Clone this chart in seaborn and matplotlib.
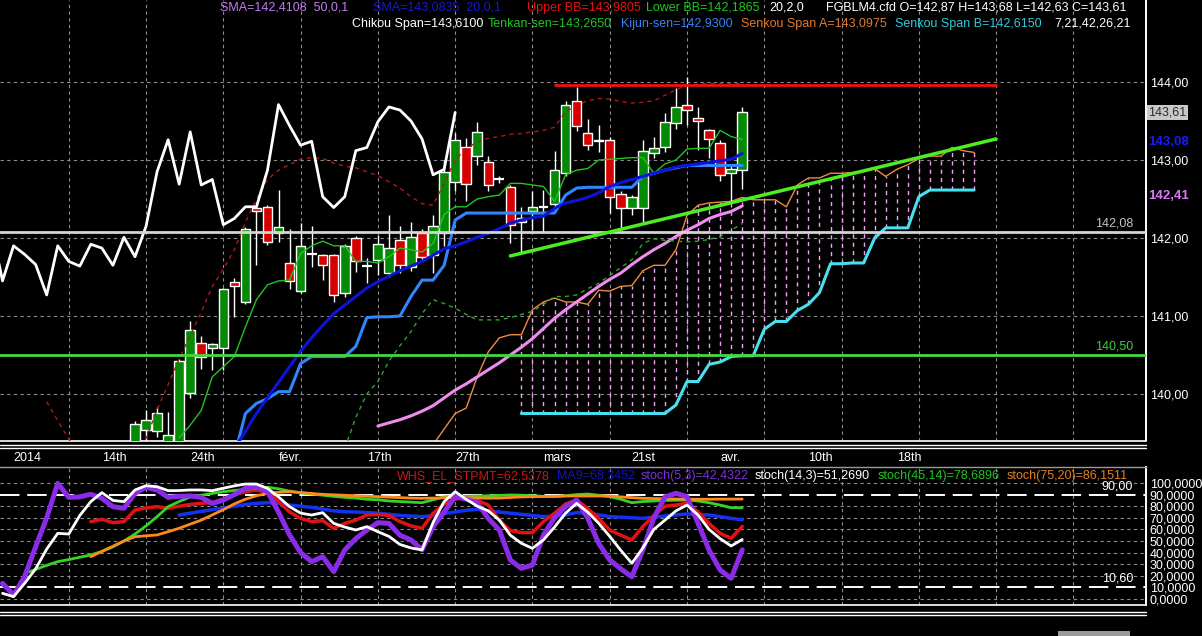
import numpy as np
import matplotlib
matplotlib.use("Agg")
import matplotlib.pyplot as plt
import matplotlib.transforms as mtransforms
from matplotlib.lines import Line2D
from matplotlib.patches import Rectangle
from matplotlib.ticker import FuncFormatter
import seaborn as sns

# ---------------- FGBLM4 daily candles (bar 0 = first candle on screen) ----------------
opens = [139.00, 139.54, 139.52, 139.20, 139.30, 140.01, 140.65, 140.59, 140.59, 141.44,
         141.18, 142.39, 142.40, 142.07, 141.68, 141.32, 141.79, 141.78, 141.78, 141.29,
         142.00, 141.64, 141.72, 141.55, 141.97, 141.63, 142.06, 141.78, 142.06, 142.72,
         143.17, 143.05, 142.98, 142.75, 142.66, 142.21, 142.35, 142.40, 142.44, 142.83,
         143.75, 143.35, 143.26, 143.26, 142.56, 142.38, 142.38, 143.09, 143.17, 143.47,
         143.70, 143.54, 143.39, 143.22, 142.83, 142.87]
highs = [139.66, 139.79, 139.83, 139.77, 140.45, 140.93, 140.74, 140.66, 141.36, 141.49,
         142.14, 142.42, 142.42, 142.62, 142.12, 142.19, 142.16, 141.80, 141.80, 141.92,
         142.02, 141.74, 142.04, 142.30, 142.15, 142.20, 142.12, 142.30, 143.00, 143.35,
         143.28, 143.49, 143.05, 142.80, 142.68, 142.40, 142.60, 142.62, 143.11, 143.75,
         143.94, 143.53, 143.45, 143.30, 142.60, 142.55, 143.25, 143.30, 143.60, 143.92,
         144.07, 143.68, 143.40, 143.25, 142.95, 143.68]
lows = [138.90, 139.35, 139.45, 139.10, 139.20, 139.95, 140.32, 140.31, 140.31, 140.99,
        141.15, 141.66, 141.91, 141.95, 141.34, 141.30, 141.63, 141.46, 141.18, 141.25,
        141.56, 141.42, 141.53, 141.50, 141.55, 141.58, 141.70, 141.55, 141.90, 142.60,
        142.47, 142.94, 142.60, 142.70, 141.93, 141.82, 142.10, 142.08, 142.40, 142.80,
        143.37, 143.13, 143.10, 142.32, 142.12, 142.30, 142.21, 143.03, 143.10, 143.40,
        143.45, 143.13, 143.02, 142.73, 142.47, 142.63]
closes = [139.62, 139.67, 139.75, 139.47, 140.42, 140.82, 140.48, 140.64, 141.34, 141.39,
          142.12, 142.35, 141.95, 142.14, 141.45, 141.90, 141.79, 141.66, 141.27, 141.90,
          141.70, 141.64, 141.92, 141.87, 141.65, 142.01, 141.76, 142.15, 142.85, 143.26,
          142.69, 143.36, 142.68, 142.75, 142.17, 142.25, 142.40, 142.40, 142.87, 143.71,
          143.44, 143.19, 143.24, 142.53, 142.39, 142.53, 143.12, 143.16, 143.49, 143.68,
          143.64, 143.50, 143.27, 142.81, 142.88, 143.61]

# ---------------- price indicators (each starts at the given bar) ----------------
sma50_start = 22
sma50 = [139.59, 139.63, 139.67, 139.72, 139.78, 139.85, 139.95, 140.05, 140.13, 140.22,
         140.31, 140.40, 140.50, 140.60, 140.71, 140.84, 140.97, 141.08, 141.18, 141.28,
         141.38, 141.47, 141.55, 141.66, 141.76, 141.85, 141.93, 142.02, 142.10, 142.17,
         142.25, 142.30, 142.34, 142.4108]
sma20_start = 9
sma20 = [139.30, 139.52, 139.75, 139.95, 140.15, 140.35, 140.55, 140.72, 140.88, 141.03,
         141.14, 141.25, 141.36, 141.44, 141.51, 141.58, 141.64, 141.70, 141.78, 141.86,
         141.90, 141.95, 142.01, 142.06, 142.12, 142.19, 142.23, 142.26, 142.28, 142.38,
         142.45, 142.48, 142.52, 142.58, 142.66, 142.71, 142.75, 142.79, 142.83, 142.87,
         142.91, 142.93, 142.95, 142.97, 142.99, 143.01, 143.0835]
upper_bb_start = -8
upper_bb = [139.90, 139.66, 139.42, 139.20, 139.05, 139.00, 139.00, 139.05, 139.20,
            139.43, 139.80, 140.12, 140.45, 140.75, 141.05, 141.38, 141.60, 141.85, 142.20,
            142.50, 142.75, 142.87, 142.94, 143.01, 143.03, 143.02, 142.96, 142.92, 142.90,
            142.85, 142.80, 142.72, 142.64, 142.53, 142.44, 142.42, 142.70, 143.00, 143.15,
            143.23, 143.28, 143.30, 143.33, 143.34, 143.36, 143.38, 143.42, 143.62, 143.70,
            143.76, 143.79, 143.78, 143.75, 143.73, 143.74, 143.76, 143.83, 143.90, 143.96,
            143.97, 143.98, 143.98, 143.98, 143.9805]
lower_bb_start = 19
lower_bb = [139.30, 139.70, 140.00, 140.16, 140.42, 140.62, 140.80, 141.03, 141.21, 141.16,
            141.10, 141.02, 140.95, 140.95, 140.95, 140.98, 141.02, 141.06, 141.15, 141.25,
            141.25, 141.27, 141.35, 141.42, 141.52, 141.62, 141.72, 141.93, 141.99, 141.97,
            141.96, 141.95, 141.96, 141.98, 142.02, 142.10, 142.1865]
tenkan_start = 4
tenkan = [139.44, 139.60, 139.79, 140.22, 140.35, 140.48, 140.86, 141.21, 141.40, 141.45,
          141.46, 141.80, 141.90, 141.96, 141.90, 141.90, 141.70, 141.70, 141.68, 141.76,
          141.87, 141.85, 141.82, 141.93, 142.30, 142.40, 142.40, 142.50, 142.53, 142.55,
          142.70, 142.70, 142.68, 142.66, 142.47, 142.81, 142.87, 142.89, 143.00, 143.01,
          143.02, 143.03, 143.03, 142.83, 142.95, 143.00, 143.14, 143.15, 143.15, 143.38,
          143.30, 143.265]
kijun_start = 9
kijun = [139.20, 139.75, 139.88, 139.94, 140.03, 140.03, 140.39, 140.48, 140.48, 140.48,
         140.48, 140.61, 140.98, 140.99, 140.99, 141.00, 141.25, 141.46, 141.46, 141.65,
         142.23, 142.32, 142.32, 142.32, 142.32, 142.32, 142.32, 142.32, 142.32, 142.32,
         142.55, 142.64, 142.65, 142.65, 142.65, 142.65, 142.65, 142.79, 142.83, 142.87,
         142.90, 142.93, 142.93, 142.93, 142.93, 142.93, 142.93]
senkou_a_start = 27
senkou_a = [139.35, 139.55, 139.75, 139.82, 140.22, 140.54, 140.72, 140.76, 140.76, 141.08,
            141.18, 141.23, 141.18, 141.18, 141.15, 141.33, 141.32, 141.38, 141.39, 141.58,
            141.65, 141.65, 141.85, 142.29, 142.42, 142.45, 142.46, 142.47, 142.52, 142.49,
            142.49, 142.49, 142.40, 142.68, 142.77, 142.77, 142.83, 142.83, 142.84, 142.85,
            142.89, 142.79, 142.88, 142.94, 143.02, 143.05, 143.05, 143.16, 143.12, 143.0975]
senkou_b_start = 35
senkou_b = [139.75, 139.75, 139.75, 139.75, 139.75, 139.75, 139.75, 139.75, 139.75, 139.75,
            139.75, 139.75, 139.75, 139.75, 139.86, 140.16, 140.16, 140.38, 140.41, 140.48,
            140.49, 140.49, 140.83, 140.93, 140.93, 141.07, 141.15, 141.30, 141.67, 141.67,
            141.68, 141.68, 142.00, 142.13, 142.13, 142.13, 142.53, 142.615, 142.615, 142.615,
            142.615, 142.615]
chikou_shift = 26

# drawn levels
level_grey = 142.08
level_green = 140.50
resistance_bars = [38, 78]
resistance_values = [143.96, 143.96]
trend_bars = [34, 78]
trend_values = [141.77, 143.27]

# ---------------- oscillator panel ----------------
stoch5_start = -12
stoch5 = [13.5, 3.4, 19.3, 45, 70, 99.7, 87.6, 88, 90.3, 86.8, 79.6, 78.2,
          91.1, 96.3, 94, 87.6, 88.5, 88.8, 87.6, 82.4, 85.3, 90,
          95.4, 96.8, 92.5, 75, 55.2, 40, 32.2, 36.5, 23.6, 42.3,
          52, 59.5, 65.8, 65.2, 55, 50.9, 42.3, 62.4, 75, 88.2,
          86, 83, 69.5, 59.5, 33.6, 26.4, 29.3, 55.2, 70, 79.6,
          85.3, 70, 48, 33.6, 26, 19.2, 42.2, 70, 88, 91.1,
          88.2, 65.3, 42.2, 25, 17.8, 42.4322]
stoch14_start = -12
stoch14 = [4.9, 2, 13.5, 26, 43, 56.6, 56, 72, 84, 91.7, 85, 83.9,
           94, 97.7, 96.8, 93.4, 93.5, 94, 94, 93.4, 95.5, 97.5,
           99.1, 99.1, 95.4, 88, 79.6, 74, 72.4, 74.4, 65.2, 62,
           59.5, 62.4, 58, 54, 47, 44, 42.3, 66, 84, 92.5,
           86, 80, 76, 68, 55, 48, 43.7, 51, 62, 74,
           82.4, 75, 65.3, 54, 42, 30.8, 44, 60, 68, 76,
           81, 72.4, 60, 52, 45.7, 51.2690]
stoch45_start = -10
stoch45 = [22.1, 25.5, 29, 32.2, 34, 36, 38, 41, 45, 50,
           56, 63, 71, 79.6, 84, 88, 89.5, 91, 92.5, 93.5,
           94.5, 95.5, 96.3, 95, 93, 91.5, 90.5, 89.5, 88.5, 87.6,
           87, 86, 85.5, 84.5, 84, 83.5, 83, 85.5, 88, 88.5,
           88.5, 88.8, 89, 89.3, 89.7, 89.5, 89, 88.5, 88.2, 89,
           90, 90.5, 89.5, 88.2, 86, 83, 84, 84.5, 85, 85.2,
           85.3, 84.5, 83, 81, 78.7, 78.6896]
stoch75_start = -4
stoch75 = [36.5, 41, 45.5, 50,
           53.7, 54.5, 55.2, 58, 61, 64.5, 68, 72.5, 77, 82,
           86, 89, 91.1, 92, 92.5, 91.8, 91, 90.2, 89.8, 89.4,
           89, 88.6, 88.2, 87.8, 87.4, 87, 86.8, 87, 87.3, 87.6,
           87.4, 87.1, 86.9, 87, 87.5, 88, 88.2, 88.4, 88.6, 88.8,
           88.8, 88.8, 88.8, 88.8, 88, 87.4, 86.8, 86.6, 86.4, 86.2,
           86, 86, 86, 86.1, 86.1, 86.1511]
stpmt_start = -4
stpmt = [66.7, 68.7, 65.8, 66.7,
         76.7, 78.5, 79.6, 78.2, 80, 81.5, 82.5, 83, 86, 90,
         92.5, 94, 92, 84, 75, 69.5, 66.7, 67.5, 60.9, 65.2,
         68, 72.4, 73, 72, 66.7, 63, 60.9, 73.9, 82, 85.9,
         88.2, 85, 81, 68, 59, 57.2, 57.2, 66.7, 74, 82,
         85.3, 78, 69.5, 59.5, 55, 50.9, 62.4, 72, 80, 81,
         82.5, 75, 65, 56.6, 52.3, 62.5378]
ma9_start = 4
ma9 = [72.4, 74, 75.5, 77, 78.5, 80, 81.5, 82.5, 83, 82.5,
       81, 80, 79, 77.5, 76, 75.3, 75, 74.5, 74, 73,
       72, 71.5, 71, 72, 73.5, 75, 76.5, 77.3, 76, 75,
       74, 73, 72, 71, 71.5, 72.4, 74.5, 74, 72.5, 71,
       70.5, 70, 69.5, 70.5, 71.5, 72.5, 73.3, 73, 72.4, 71,
       69.5, 68.3452]
osc_upper = 90.0
osc_lower = 10.6

date_labels = ["2014", "14th", "24th", "févr.", "17th", "27th", "mars",
               "21st", "avr.", "10th", "18th"]

# ---------------- style ----------------
sns.set_style("dark", {"axes.facecolor": "black", "figure.facecolor": "black"})
plt.rcParams["font.family"] = ["Liberation Sans", "DejaVu Sans"]

W, H, DPI = 1202, 636, 100
fig = plt.figure(figsize=(W / DPI, H / DPI), dpi=DPI, facecolor="black")


def fx(p):
    return p / W


def fy(p):
    return 1 - p / H


def fmt(v, d):
    return f"{v:.{d}f}".replace(".", ",")


PLOT_R = 1145.5
BAR_PX = 11.04
FIRST_BAR_PX = 135.0
ax = fig.add_axes([0, fy(440.5), fx(PLOT_R), fy(0) - fy(440.5)])
ax2 = fig.add_axes([0, fy(605), fx(PLOT_R), fy(467) - fy(605)])

x_lo = -FIRST_BAR_PX / BAR_PX
x_hi = (PLOT_R - FIRST_BAR_PX) / BAR_PX
for a in (ax, ax2):
    a.set_facecolor("black")
    a.set_xlim(x_lo, x_hi)
    a.set_xticks(np.arange(-6, 92, 7))
    a.tick_params(axis="x", length=0, labelbottom=False)
    a.grid(axis="x", color="#8c8c8c", ls=(0, (3, 3)), lw=0.8)
    a.set_axisbelow(True)
    for s in ("left", "top"):
        a.spines[s].set_visible(False)
    a.spines["right"].set_color("white")
    a.spines["right"].set_linewidth(1.4)
    a.spines["bottom"].set_color("white")
    a.spines["bottom"].set_linewidth(1.2)
    a.yaxis.tick_right()
    a.tick_params(axis="y", length=0, pad=3, labelcolor="white", labelsize=9)

ax2.spines["top"].set_visible(True)
ax2.spines["top"].set_color("#9a9a9a")
ax2.spines["top"].set_linewidth(1.0)

ax.set_ylim(144 - 358.5 / 78, 144 + 82 / 78)
ax.set_yticks([140, 141, 142, 143, 144])
ax.yaxis.set_major_formatter(FuncFormatter(lambda v, _: fmt(v, 2)))
ax.grid(axis="y", color="#8c8c8c", ls=(0, (3, 3)), lw=0.8)

ax2.set_ylim(-5.17, 113.79)
ax2.set_yticks(np.arange(0, 101, 10))
ax2.yaxis.set_major_formatter(FuncFormatter(lambda v, _: fmt(v, 4)))
for lev in (0, 20, 30, 40, 50, 60, 70, 80, 100):
    ax2.axhline(lev, color="#8c8c8c", ls=(0, (3, 3)), lw=0.8, zorder=0.5)


def line(a, start, values, **kw):
    xs = start + np.arange(len(values))
    sns.lineplot(x=xs, y=values, ax=a, estimator=None, sort=False, legend=False, **kw)


def segment(a, xs, ys, **kw):
    sns.lineplot(x=xs, y=ys, ax=a, estimator=None, sort=False, legend=False, **kw)


# ---------------- Ichimoku cloud hatching ----------------
a_arr = np.array(senkou_a)
b_arr = np.array(senkou_b)
cloud_bars = np.arange(senkou_b_start, senkou_b_start + len(senkou_b))
a_on_cloud = a_arr[cloud_bars - senkou_a_start]
ax.vlines(cloud_bars, np.minimum(a_on_cloud, b_arr), np.maximum(a_on_cloud, b_arr),
          colors="#f4a0f4", linestyles=(0, (3, 3)), lw=1, zorder=1)

# ---------------- candles ----------------
o = np.array(opens)
c = np.array(closes)
hi = np.array(highs)
lo = np.array(lows)
bars = np.arange(len(c))
up = c > o
dn = c < o
flat = c == o
ax.vlines(bars, lo, hi, color="white", lw=1, zorder=3)
ax.bar(bars[up], (c - o)[up], bottom=o[up], width=0.86, color="#058a05",
       edgecolor="white", linewidth=1, zorder=4)
ax.bar(bars[dn], (o - c)[dn], bottom=c[dn], width=0.86, color="#d60000",
       edgecolor="white", linewidth=1, zorder=4)
ax.hlines(c[flat], bars[flat] - 0.45, bars[flat] + 0.45, color="white", lw=1.6, zorder=4)

# ---------------- price overlays ----------------
line(ax, senkou_a_start, senkou_a, color="#f08a40", linewidth=1, zorder=2)
line(ax, senkou_b_start, senkou_b, color="#46e0f0", linewidth=2.2, zorder=2)
line(ax, sma50_start, sma50, color="#f08cf0", linewidth=2.2, zorder=5)
line(ax, lower_bb_start, lower_bb, color="#2aa82a", linewidth=1, linestyle=(0, (3, 3)), zorder=5)
line(ax, upper_bb_start, upper_bb, color="#b01818", linewidth=1, linestyle=(0, (3, 3)), zorder=5)
line(ax, tenkan_start, tenkan, color="#22c422", linewidth=1, zorder=6)
line(ax, kijun_start, kijun, color="#2f86ff", linewidth=2.2, zorder=6)
line(ax, sma20_start, sma20, color="#0c14d8", linewidth=2.2, zorder=6)
line(ax, -chikou_shift, closes, color="white", linewidth=2, zorder=7)

ax.axhline(level_grey, color="#d4d4d4", lw=2, zorder=8)
ax.axhline(level_green, color="#44d844", lw=2, zorder=8)
segment(ax, resistance_bars, resistance_values, color="#ee1111", linewidth=2, zorder=8)
segment(ax, trend_bars, trend_values, color="#4cee22", linewidth=2.5, zorder=8)

# ---------------- oscillators ----------------
ax2.axhline(osc_upper, color="white", ls=(0, (10, 4)), lw=1.4, zorder=1)
ax2.axhline(osc_lower, color="white", ls=(0, (10, 4)), lw=1.4, zorder=1)
line(ax2, ma9_start, ma9, color="#1232f0", linewidth=2.5, zorder=3)
line(ax2, stpmt_start, stpmt, color="#e01212", linewidth=2.5, zorder=3)
line(ax2, stoch45_start, stoch45, color="#36d424", linewidth=2, zorder=3)
line(ax2, stoch75_start, stoch75, color="#ff8a1c", linewidth=2, zorder=3)
line(ax2, stoch5_start, stoch5, color="#8a2be8", linewidth=3.6, zorder=4)
line(ax2, stoch14_start, stoch14, color="white", linewidth=2, zorder=5)

for a in (ax, ax2):
    a.set_xlabel("")
    a.set_ylabel("")
    a.set_xlim(x_lo, x_hi)

# ---------------- right-side value tags ----------------
ax.annotate(fmt(closes[-1], 2), xy=(1, closes[-1]), xycoords=("axes fraction", "data"),
            xytext=(2.2, 0), textcoords="offset points", va="center", ha="left",
            fontsize=9, color="#2a2a2a", annotation_clip=False,
            bbox=dict(boxstyle="square,pad=0.12", fc="#c8c8c8", ec="none"))
ax.annotate(fmt(sma20[-1], 2), xy=(1, sma20[-1]), xycoords=("axes fraction", "data"),
            xytext=(2.2, 8), textcoords="offset points", va="center", ha="left",
            fontsize=9.5, color="#1a1aff", fontweight="bold", annotation_clip=False)
ax.annotate(fmt(sma50[-1], 2), xy=(1, sma50[-1]), xycoords=("axes fraction", "data"),
            xytext=(2.2, 7.3), textcoords="offset points", va="center", ha="left",
            fontsize=9.5, color="#d878f0", fontweight="bold", annotation_clip=False)

lab_x = 1133 / PLOT_R
ax.annotate(fmt(level_grey, 2), xy=(lab_x, level_grey), xycoords=("axes fraction", "data"),
            xytext=(0, 6), textcoords="offset points", va="center", ha="right",
            fontsize=9, color="#c4c4c4")
ax.annotate(fmt(level_green, 2), xy=(lab_x, level_green), xycoords=("axes fraction", "data"),
            xytext=(0, 6), textcoords="offset points", va="center", ha="right",
            fontsize=9, color="#3ccc3c")
ax2.annotate(fmt(osc_upper, 2), xy=(lab_x, osc_upper), xycoords=("axes fraction", "data"),
             xytext=(0, 6), textcoords="offset points", va="center", ha="right",
             fontsize=9, color="white")
ax2.annotate(fmt(osc_lower, 2), xy=(lab_x, osc_lower), xycoords=("axes fraction", "data"),
             xytext=(0, 6), textcoords="offset points", va="center", ha="right",
             fontsize=9, color="white")

# ---------------- date labels ----------------
tdate = mtransforms.blended_transform_factory(ax.transData, fig.transFigure)
for k, lab in enumerate(date_labels):
    ax.text(-11 + 8 * k, fy(458), lab, transform=tdate, ha="left", va="center",
            fontsize=9, color="white", clip_on=False)


# ---------------- legends / headers ----------------
def header(items, ypx):
    for txt, col, xpx in items:
        fig.text(fx(xpx), fy(ypx), txt, color=col, fontsize=9, ha="left", va="center")


header([
    (f"SMA={fmt(sma50[-1], 4)}  50,0,1", "#c27cf0", 220),
    (f"SMA={fmt(sma20[-1], 4)}  20,0,1", "#1a1ac8", 373),
    (f"Upper BB={fmt(upper_bb[-1], 4)}", "#e01414", 527),
    (f"Lower BB={fmt(lower_bb[-1], 4)}", "#22c422", 646),
    ("20,2,0", "white", 769),
    (f"FGBLM4.cfd O={fmt(opens[-1], 2)} H={fmt(highs[-1], 2)} "
     f"L={fmt(lows[-1], 2)} C={fmt(closes[-1], 2)}", "white", 826),
], 8)
header([
    (f"Chikou Span={fmt(closes[-1], 4)}", "white", 352),
    (f"Tenkan-sen={fmt(tenkan[-1], 4)}", "#22c422", 488),
    (f"Kijun-sen={fmt(kijun[-1], 4)}", "#3a82f0", 621),
    (f"Senkou Span A={fmt(senkou_a[-1], 4)}", "#e07a30", 741),
    (f"Senkou Span B={fmt(senkou_b[-1], 4)}", "#34c8d8", 895),
    ("7,21,42,26,21", "white", 1054),
], 24)
header([
    (f"WHS_EL_STPMT={fmt(stpmt[-1], 4)}", "#d01414", 397),
    (f"MA9={fmt(ma9[-1], 4)}", "#1414c0", 557),
    (f"stoch(5,3)={fmt(stoch5[-1], 4)}", "#7a30d8", 641),
    (f"stoch(14,3)={fmt(stoch14[-1], 4)}", "white", 755),
    (f"stoch(45,14)={fmt(stoch45[-1], 4)}", "#22c422", 878),
    (f"stoch(75,20)={fmt(stoch75[-1], 4)}", "#e08020", 1007),
], 476)

# ---------------- panel separators ----------------
for ypx in (444.5, 447.5, 611.5, 614.5):
    fig.add_artist(Line2D([0, fx(PLOT_R)], [fy(ypx), fy(ypx)], color="white", lw=1))
fig.add_artist(Rectangle((fx(1058), fy(636)), fx(72), 5 / H, transform=fig.transFigure,
                         color="#9a9a9a", lw=0))

fig.savefig("out.png", dpi=DPI, facecolor="black")
